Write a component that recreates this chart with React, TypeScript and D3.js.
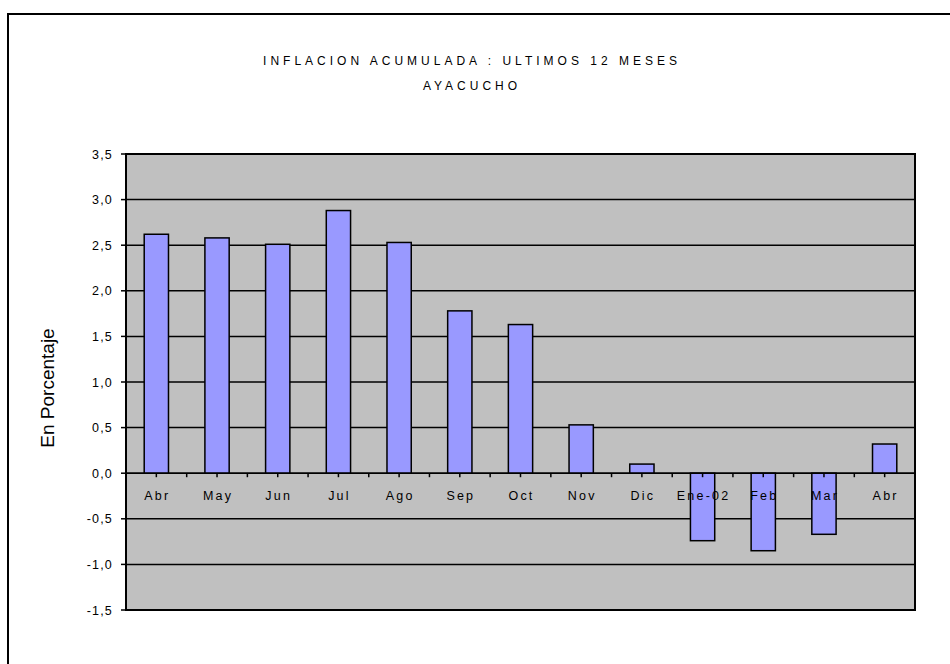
import React from "react";
import * as d3 from "d3";

const categories = ["Abr", "May", "Jun", "Jul", "Ago", "Sep", "Oct", "Nov", "Dic", "Ene-02", "Feb", "Mar", "Abr "];
const values = [2.62, 2.58, 2.51, 2.88, 2.53, 1.78, 1.63, 0.53, 0.10, -0.74, -0.85, -0.67, 0.32];
const yTicks = [-1.5, -1.0, -0.5, 0, 0.5, 1.0, 1.5, 2.0, 2.5, 3.0, 3.5];
const titleLines = ["INFLACION ACUMULADA : ULTIMOS 12 MESES", "AYACUCHO"];
const yLabel = "En Porcentaje";

export default function App() {
  const W = 950, H = 664;
  const left = 126, right = 915, top = 154, bottom = 610;
  const x = d3.scaleBand<string>().domain(categories).range([left, right]).paddingInner(0.6).paddingOuter(0.3);
  const xc = d3.scaleBand<string>().domain(categories).range([left, right]);
  const y = d3.scaleLinear().domain([-1.5, 3.5]).range([bottom, top]);
  const fmt = (v: number) => d3.format(".1f")(v).replace(".", ",").replace("−", "-");
  const font = "'Liberation Sans', Arial, sans-serif";
  const y0 = y(0);
  return (
    <svg width={W} height={H} style={{ position: "absolute", left: 0, top: 0, background: "#fff" }}>
      <rect x={8} y={14} width={1000} height={1000} fill="#fff" stroke="#000" strokeWidth={2} />
      {titleLines.map((t, i) => (
        <text key={i} x={472} y={65 + i * 25} textAnchor="middle" fontFamily={font} fontSize={12} letterSpacing={4} fill="#000">{t}</text>
      ))}
      <rect x={left} y={top} width={right - left} height={bottom - top} fill="#c0c0c0" />
      {yTicks.map((t) => (
        <g key={t}>
          <line x1={left} x2={right} y1={y(t)} y2={y(t)} stroke="#000" strokeWidth={1.5} />
          <line x1={left - 5} x2={left} y1={y(t)} y2={y(t)} stroke="#000" strokeWidth={1.5} />
          <text x={left - 13} y={y(t) + 4.5} textAnchor="end" fontFamily={font} fontSize={12.5} letterSpacing={1.2} fill="#000">{fmt(t)}</text>
        </g>
      ))}
      {categories.map((c, i) => {
        const v = values[i];
        const bx = x(c)!;
        const by = v >= 0 ? y(v) : y0;
        const bh = Math.abs(y(v) - y0);
        return <rect key={"b" + i} x={bx} y={by} width={x.bandwidth()} height={bh} fill="#9999ff" stroke="#000" strokeWidth={1.5} />;
      })}
      <line x1={left} x2={right} y1={y0} y2={y0} stroke="#000" strokeWidth={1.5} />
      {categories.map((c, i) => (
        <g key={"t" + i}>
          <line x1={xc(c)!} x2={xc(c)!} y1={y0} y2={y0 + 4} stroke="#000" strokeWidth={1.5} />
          <line x1={xc(c)! + xc.bandwidth() / 2} x2={xc(c)! + xc.bandwidth() / 2} y1={y0} y2={y0 + 4} stroke="#000" strokeWidth={1.5} />
          <text x={xc(c)! + xc.bandwidth() / 2 + 1} y={y0 + 27} textAnchor="middle" fontFamily={font} fontSize={12.5} letterSpacing={2.2} fill="#000">{c.trim()}</text>
        </g>
      ))}
      <rect x={left} y={top} width={right - left} height={bottom - top} fill="none" stroke="#000" strokeWidth={2} />
      <text transform={`translate(54, ${388}) rotate(-90)`} textAnchor="middle" fontFamily={font} fontSize={19} fill="#000">{yLabel}</text>
    </svg>
  );
}
